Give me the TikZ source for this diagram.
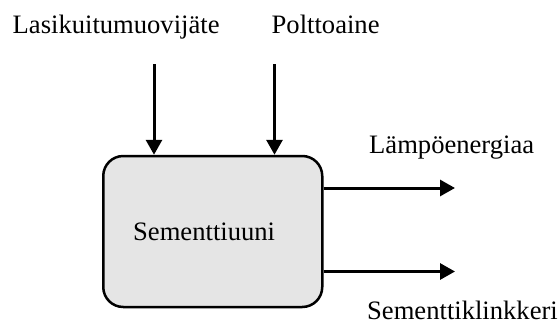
\documentclass[tikz,border=0pt]{standalone}
\usepackage{fontspec}
\setmainfont{Liberation Serif}
\usetikzlibrary{arrows.meta}
\begin{document}
\begin{tikzpicture}[x=1pt,y=-1pt,
  lbl/.style={anchor=base west,inner sep=0pt,font=\fontsize{26.6}{32}\selectfont},
  oven/.style={draw=black,line width=2.5pt,fill=gray!20,rounded corners=20pt,
    minimum width=219pt,minimum height=151pt,inner sep=0pt},
  flow/.style={line width=3pt,-{Triangle[length=15pt,width=16pt]}}]
\useasboundingbox (0,0) rectangle (560,322);
\node[oven] (box) at (212.75,231.5) {};
\node[lbl] (t) at (133,240) {Sementtiuuni};
\node[lbl] (in1l) at (12.5,33) {Lasikuitumuovijäte};
\node[lbl] (in2l) at (271.5,33) {Polttoaine};
\node[lbl] (out1l) at (369,153) {Lämpöenergiaa};
\node[lbl] (out2l) at (367,319) {Sementtiklinkkeri};
\coordinate (in1) at (154,64);
\coordinate (in2) at (274.5,64);
\coordinate (out1) at (455,188);
\coordinate (out2) at (455,271.5);
\draw[flow] (in1) -- (in1 |- box.north);
\draw[flow] (in2) -- (in2 |- box.north);
\draw[flow] (box.east |- out1) -- (out1);
\draw[flow] (box.east |- out2) -- (out2);
\end{tikzpicture}
\end{document}
